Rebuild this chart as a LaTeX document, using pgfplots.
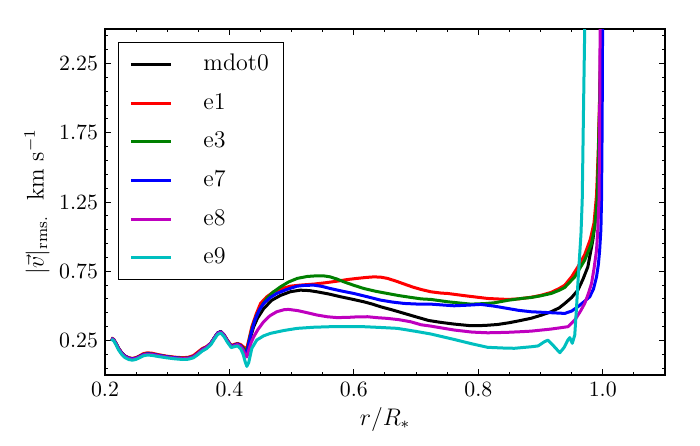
\documentclass[border=0pt]{standalone}
\usepackage{pgfplots}
\pgfplotsset{compat=1.18}
\definecolor{mred}{rgb}{1,0,0}
\definecolor{mgreen}{rgb}{0,0.5,0}
\definecolor{mblue}{rgb}{0,0,1}
\definecolor{mmag}{rgb}{0.75,0,0.75}
\definecolor{mcyan}{rgb}{0,0.75,0.75}
\begin{document}
\begin{tikzpicture}
\useasboundingbox (-52.5pt,-35pt) rectangle (297.5pt,187.5pt);
\begin{axis}[
  at={(0,0)}, anchor=south west,
  scale only axis, width=280pt, height=173pt,
  xmin=0.2, xmax=1.1, ymin=0, ymax=2.5,
  xtick={0.2,0.4,0.6,0.8,1.0},
  xticklabels={0.2,0.4,0.6,0.8,1.0},
  minor xtick={0.25,0.3,0.35,0.45,0.5,0.55,0.65,0.7,0.75,0.85,0.9,0.95,1.05},
  ytick={0.25,0.75,1.25,1.75,2.25},
  yticklabels={0.25,0.75,1.25,1.75,2.25},
  minor ytick={0.05,0.15,0.35,0.45,0.55,0.65,0.85,0.95,1.05,1.15,1.35,1.45,1.55,1.65,1.85,1.95,2.05,2.15,2.35,2.45},
  tick align=inside, xtick pos=both, ytick pos=both,
  major tick length=2.8pt, minor tick length=1.4pt,
  every tick/.style={black, line width=0.5pt},
  axis line style={line width=0.8pt},
  tick label style={font=\fontsize{10.9}{12}\selectfont},
  xlabel={$r/R_*$},
  ylabel={$|\vec{v}|_{\mathrm{rms.}}\ \ \mathrm{km\ s^{-1}}$},
  label style={font=\fontsize{11.8}{13}\selectfont},
  xlabel style={at={(axis description cs:0.5,-0.1445)}, anchor=base},
  ylabel style={at={(axis description cs:-0.1214,0.5)}, anchor=center},
  legend style={at={(0.023,0.962)}, anchor=north west, draw=black, line width=0.6pt,
    fill=white, font=\fontsize{12}{14}\selectfont, legend cell align=left,
    inner xsep=5.5pt, inner ysep=3.5pt, row sep=4.3pt, column sep=13.5pt,
    nodes={inner sep=2pt, text height=8.5pt, text depth=2.5pt}},
  legend image code/.code={\draw[#1, line width=1.5pt] (2pt,0pt) -- (22pt,0pt);},
  every axis plot/.append style={line width=1.5pt, line join=round},
]
\addplot[black] coordinates {
(0.210,0.265) (0.214,0.255) (0.218,0.225) (0.222,0.19) (0.227,0.158) (0.232,0.136) (0.238,0.122) (0.244,0.117) (0.250,0.122) (0.256,0.135) (0.262,0.148) (0.268,0.153) (0.275,0.151) (0.285,0.143) (0.298,0.133) (0.312,0.125) (0.325,0.12) (0.334,0.122) (0.342,0.132) (0.349,0.155) (0.356,0.183) (0.363,0.2) (0.370,0.228) (0.376,0.27) (0.381,0.303) (0.386,0.315) (0.391,0.292) (0.397,0.247) (0.403,0.208) (0.408,0.215) (0.413,0.224) (0.418,0.212) (0.422,0.19)
(0.425,0.16) (0.428,0.143) (0.431,0.2) (0.435,0.29) (0.439,0.349) (0.445,0.41) (0.455,0.48) (0.468,0.54) (0.482,0.575) (0.498,0.602) (0.514,0.613) (0.528,0.61) (0.541,0.601) (0.56,0.585) (0.579,0.565) (0.598,0.547) (0.616,0.529) (0.63,0.512) (0.643,0.493) (0.662,0.47) (0.681,0.445) (0.7,0.42) (0.72,0.394) (0.74,0.38) (0.761,0.368) (0.788,0.356) (0.81,0.358) (0.831,0.365) (0.85,0.378) (0.869,0.395) (0.885,0.41) (0.901,0.432) (0.917,0.457) (0.93,0.485) (0.939,0.517) (0.95,0.56) (0.96,0.613) (0.968,0.69) (0.976,0.781) (0.984,0.974) (0.99,1.19) (0.993,1.5) (0.995,1.9) (0.997,2.4) (0.998,2.8)
};
\addlegendentry{mdot0}
\addplot[mred] coordinates {
(0.210,0.268) (0.214,0.258) (0.218,0.228) (0.222,0.193) (0.227,0.161) (0.232,0.139) (0.238,0.125) (0.244,0.12) (0.250,0.126) (0.256,0.14) (0.262,0.155) (0.268,0.16) (0.275,0.158) (0.285,0.148) (0.298,0.137) (0.312,0.129) (0.325,0.125) (0.334,0.128) (0.342,0.14) (0.349,0.165) (0.356,0.19) (0.363,0.205) (0.370,0.23) (0.376,0.27) (0.381,0.303) (0.386,0.313) (0.391,0.292) (0.397,0.25) (0.403,0.213) (0.408,0.222) (0.413,0.228) (0.418,0.22) (0.422,0.205)
(0.425,0.195) (0.428,0.193) (0.432,0.27) (0.436,0.349) (0.443,0.44) (0.45,0.517) (0.46,0.565) (0.471,0.601) (0.485,0.625) (0.498,0.642) (0.515,0.65) (0.536,0.657) (0.555,0.667) (0.573,0.678) (0.59,0.69) (0.605,0.698) (0.62,0.705) (0.632,0.709) (0.643,0.707) (0.654,0.698) (0.668,0.678) (0.681,0.657) (0.695,0.635) (0.708,0.618) (0.724,0.601) (0.74,0.592) (0.751,0.589) (0.78,0.572) (0.815,0.553) (0.847,0.546) (0.865,0.55) (0.885,0.562) (0.9,0.575) (0.917,0.597) (0.93,0.625) (0.939,0.649) (0.95,0.71) (0.96,0.781) (0.971,0.87) (0.98,0.98) (0.986,1.1) (0.99,1.3) (0.993,1.65) (0.996,2.2) (0.998,2.8)
};
\addlegendentry{e1}
\addplot[mgreen] coordinates {
(0.210,0.265) (0.214,0.255) (0.218,0.225) (0.222,0.19) (0.227,0.158) (0.232,0.136) (0.238,0.122) (0.244,0.117) (0.250,0.122) (0.256,0.135) (0.262,0.148) (0.268,0.153) (0.275,0.151) (0.285,0.143) (0.298,0.133) (0.312,0.125) (0.325,0.12) (0.334,0.122) (0.342,0.132) (0.349,0.155) (0.356,0.183) (0.363,0.2) (0.370,0.228) (0.376,0.27) (0.381,0.303) (0.386,0.313) (0.391,0.29) (0.397,0.245) (0.403,0.208) (0.408,0.215) (0.413,0.224) (0.418,0.212) (0.422,0.195)
(0.425,0.18) (0.428,0.17) (0.433,0.276) (0.438,0.36) (0.444,0.433) (0.452,0.5) (0.46,0.553) (0.47,0.598) (0.482,0.637) (0.495,0.672) (0.509,0.698) (0.525,0.712) (0.541,0.717) (0.552,0.716) (0.562,0.709) (0.573,0.693) (0.584,0.673) (0.6,0.648) (0.616,0.625) (0.635,0.605) (0.654,0.589) (0.672,0.574) (0.691,0.561) (0.708,0.55) (0.724,0.546) (0.751,0.529) (0.788,0.512) (0.81,0.516) (0.826,0.522) (0.848,0.54) (0.869,0.553) (0.885,0.56) (0.9,0.572) (0.917,0.589) (0.93,0.612) (0.939,0.633) (0.955,0.709) (0.971,0.83) (0.982,0.95) (0.987,1.07) (0.991,1.263) (0.993,1.6) (0.996,2.2) (0.998,2.8)
};
\addlegendentry{e3}
\addplot[mblue] coordinates {
(0.210,0.265) (0.214,0.255) (0.218,0.225) (0.222,0.19) (0.227,0.158) (0.232,0.136) (0.238,0.122) (0.244,0.117) (0.250,0.122) (0.256,0.135) (0.262,0.148) (0.268,0.153) (0.275,0.151) (0.285,0.143) (0.298,0.133) (0.312,0.125) (0.325,0.12) (0.334,0.122) (0.342,0.132) (0.349,0.155) (0.356,0.183) (0.363,0.2) (0.370,0.228) (0.376,0.27) (0.381,0.303) (0.386,0.313) (0.391,0.29) (0.397,0.245) (0.403,0.208) (0.408,0.215) (0.413,0.224) (0.418,0.212) (0.422,0.185)
(0.425,0.16) (0.428,0.15) (0.431,0.229) (0.436,0.32) (0.441,0.397) (0.448,0.47) (0.455,0.517) (0.465,0.558) (0.476,0.589) (0.492,0.618) (0.509,0.642) (0.522,0.648) (0.536,0.649) (0.549,0.64) (0.562,0.625) (0.58,0.607) (0.6,0.589) (0.622,0.565) (0.643,0.541) (0.662,0.527) (0.681,0.517) (0.7,0.513) (0.724,0.512) (0.761,0.5) (0.785,0.505) (0.804,0.51) (0.825,0.498) (0.847,0.481) (0.865,0.467) (0.885,0.457) (0.917,0.45) (0.939,0.445) (0.95,0.462) (0.96,0.493) (0.97,0.53) (0.979,0.565) (0.985,0.62) (0.99,0.709) (0.993,0.8) (0.995,0.902) (0.997,1.05) (0.998,1.263) (0.999,1.8) (1.0,2.8)
};
\addlegendentry{e7}
\addplot[mmag] coordinates {
(0.210,0.263) (0.214,0.253) (0.218,0.222) (0.222,0.187) (0.227,0.155) (0.232,0.133) (0.238,0.119) (0.244,0.114) (0.250,0.119) (0.256,0.132) (0.262,0.145) (0.268,0.15) (0.275,0.148) (0.285,0.14) (0.298,0.13) (0.312,0.122) (0.325,0.117) (0.334,0.12) (0.342,0.13) (0.349,0.153) (0.356,0.18) (0.363,0.198) (0.370,0.226) (0.376,0.268) (0.381,0.3) (0.386,0.31) (0.391,0.288) (0.397,0.243) (0.403,0.205) (0.408,0.212) (0.413,0.22) (0.418,0.205) (0.422,0.18)
(0.425,0.15) (0.428,0.13) (0.431,0.18) (0.435,0.235) (0.439,0.276) (0.446,0.33) (0.455,0.385) (0.465,0.428) (0.476,0.457) (0.488,0.472) (0.495,0.474) (0.51,0.465) (0.525,0.45) (0.541,0.433) (0.557,0.421) (0.572,0.415) (0.589,0.416) (0.605,0.42) (0.622,0.421) (0.638,0.414) (0.654,0.409) (0.672,0.4) (0.691,0.385) (0.708,0.363) (0.724,0.353) (0.761,0.325) (0.79,0.31) (0.815,0.305) (0.845,0.308) (0.869,0.313) (0.885,0.317) (0.917,0.332) (0.944,0.349) (0.955,0.397) (0.964,0.46) (0.971,0.517) (0.977,0.59) (0.982,0.662) (0.986,0.77) (0.99,0.902) (0.992,1.05) (0.994,1.263) (0.995,1.8) (0.996,2.8)
};
\addlegendentry{e8}
\addplot[mcyan] coordinates {
(0.210,0.258) (0.214,0.248) (0.218,0.216) (0.222,0.18) (0.227,0.148) (0.232,0.126) (0.238,0.112) (0.244,0.107) (0.250,0.113) (0.256,0.126) (0.262,0.139) (0.268,0.144) (0.275,0.142) (0.285,0.134) (0.298,0.125) (0.312,0.117) (0.325,0.112) (0.334,0.114) (0.342,0.124) (0.349,0.146) (0.356,0.172) (0.363,0.19) (0.370,0.218) (0.376,0.26) (0.381,0.293) (0.386,0.303) (0.391,0.28) (0.397,0.235) (0.403,0.198) (0.408,0.205) (0.413,0.21) (0.418,0.19) (0.422,0.15)
(0.425,0.1) (0.428,0.062) (0.431,0.09) (0.436,0.193) (0.444,0.253) (0.455,0.283) (0.466,0.301) (0.488,0.322) (0.509,0.337) (0.535,0.345) (0.562,0.349) (0.59,0.35) (0.616,0.349) (0.645,0.343) (0.67,0.337) (0.7,0.315) (0.724,0.296) (0.761,0.257) (0.79,0.225) (0.815,0.2) (0.84,0.195) (0.858,0.193) (0.885,0.204) (0.896,0.21) (0.906,0.24) (0.912,0.252) (0.92,0.215) (0.931,0.161) (0.938,0.2) (0.944,0.253) (0.947,0.27) (0.951,0.229) (0.955,0.289) (0.958,0.5) (0.96,0.662) (0.965,1.02) (0.967,1.263) (0.969,1.9) (0.971,2.5) (0.972,2.8)
};
\addlegendentry{e9}
\end{axis}
\end{tikzpicture}
\end{document}
